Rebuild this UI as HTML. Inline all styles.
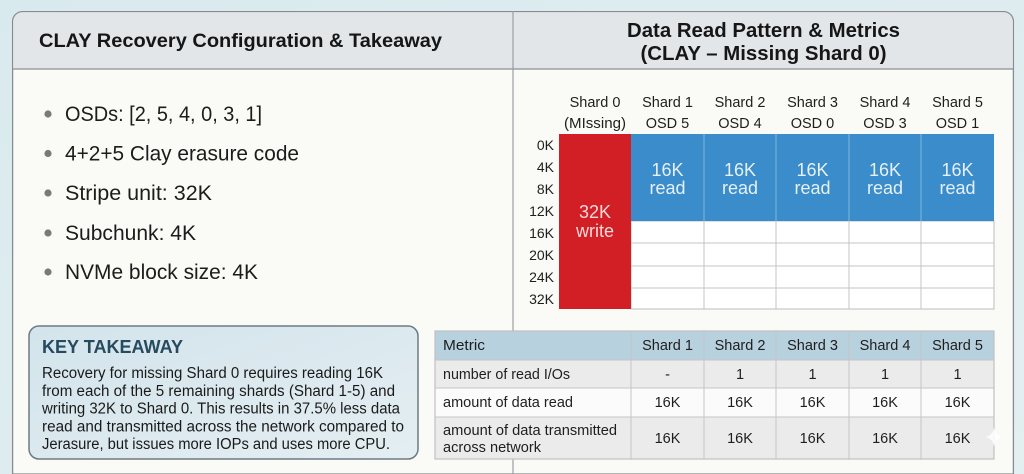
<!DOCTYPE html>
<html>
<head>
<meta charset="utf-8">
<style>
html,body{margin:0;padding:0;background:#dbeaee;width:1024px;height:474px;overflow:hidden;}
svg{display:block;}
text{font-family:"Liberation Sans",Arial,sans-serif;}
</style>
</head>
<body>
<svg width="1024" height="474" viewBox="0 0 1024 474" xmlns="http://www.w3.org/2000/svg">
  <defs>
    <linearGradient id="bg" x1="0" y1="0" x2="1" y2="1">
      <stop offset="0" stop-color="#d9eaee"/>
      <stop offset="1" stop-color="#e3eff1"/>
    </linearGradient>
    <linearGradient id="kt" x1="0" y1="0" x2="1" y2="1">
      <stop offset="0" stop-color="#d3e4ec"/>
      <stop offset="1" stop-color="#e4eef2"/>
    </linearGradient>
  </defs>
  <rect x="0" y="0" width="1024" height="474" fill="url(#bg)"/>

  <!-- main panel -->
  <path d="M12.6 474 V21 A10 10 0 0 1 22 11.6 H1004 A10 10 0 0 1 1013.4 21 V474 Z" fill="#fafaf6" stroke="#878c91" stroke-width="1.3"/>
  <path d="M13.2 69 V21 A9.4 9.4 0 0 1 22 12.2 H1004 A9.4 9.4 0 0 1 1012.8 21 V69 Z" fill="#e3e6e9"/>
  <line x1="12" y1="69" x2="1014" y2="69" stroke="#8a8f94" stroke-width="1.2"/>
  <line x1="513" y1="11" x2="513" y2="474" stroke="#9a9fa4" stroke-width="1.2"/>

  <!-- left header -->
  <text x="39" y="47" font-size="19.5" font-weight="bold" fill="#161616" textLength="403" lengthAdjust="spacingAndGlyphs">CLAY Recovery Configuration &amp; Takeaway</text>

  <!-- bullets -->
  <g fill="#7a7a7a">
    <circle cx="48" cy="114" r="3.6"/>
    <circle cx="48" cy="153.5" r="3.6"/>
    <circle cx="48" cy="193" r="3.6"/>
    <circle cx="48" cy="233" r="3.6"/>
    <circle cx="48" cy="272" r="3.6"/>
  </g>
  <g font-size="21" fill="#1c1c1c">
    <text x="65" y="121" textLength="197" lengthAdjust="spacingAndGlyphs">OSDs: [2, 5, 4, 0, 3, 1]</text>
    <text x="65" y="160.5" textLength="234" lengthAdjust="spacingAndGlyphs">4+2+5 Clay erasure code</text>
    <text x="65" y="200" textLength="147" lengthAdjust="spacingAndGlyphs">Stripe unit: 32K</text>
    <text x="65" y="240" textLength="131" lengthAdjust="spacingAndGlyphs">Subchunk: 4K</text>
    <text x="65" y="279" textLength="193" lengthAdjust="spacingAndGlyphs">NVMe block size: 4K</text>
  </g>

  <!-- key takeaway -->
  <rect x="29" y="326" width="389" height="133" rx="10" ry="10" fill="url(#kt)" stroke="#6c7a83" stroke-width="1.5"/>
  <text x="42" y="353" font-size="18" font-weight="bold" fill="#264a5e" textLength="141" lengthAdjust="spacingAndGlyphs">KEY TAKEAWAY</text>
  <g font-size="15.5" fill="#1a1a1a">
    <text x="42" y="378" textLength="341" lengthAdjust="spacingAndGlyphs">Recovery for missing Shard 0 requires reading 16K</text>
    <text x="42" y="395.8" textLength="353" lengthAdjust="spacingAndGlyphs">from each of the 5 remaining shards (Shard 1-5) and</text>
    <text x="42" y="413.5" textLength="358" lengthAdjust="spacingAndGlyphs">writing 32K to Shard 0. This results in 37.5% less data</text>
    <text x="42" y="431.3" textLength="362" lengthAdjust="spacingAndGlyphs">read and transmitted across the network compared to</text>
    <text x="42" y="449" textLength="348" lengthAdjust="spacingAndGlyphs">Jerasure, but issues more IOPs and uses more CPU.</text>
  </g>

  <!-- right header -->
  <text x="763.5" y="37" font-size="20" font-weight="bold" fill="#161616" text-anchor="middle" textLength="273" lengthAdjust="spacingAndGlyphs">Data Read Pattern &amp; Metrics</text>
  <text x="763.5" y="60" font-size="20" font-weight="bold" fill="#161616" text-anchor="middle" textLength="246" lengthAdjust="spacingAndGlyphs">(CLAY – Missing Shard 0)</text>

  <!-- column headers -->
  <g font-size="14.5" fill="#1e1e1e" text-anchor="middle">
    <text x="595" y="107">Shard 0</text>
    <text x="595" y="128" textLength="62" lengthAdjust="spacingAndGlyphs">(MIssing)</text>
    <text x="667.5" y="107">Shard 1</text>
    <text x="667.5" y="128">OSD 5</text>
    <text x="740" y="107">Shard 2</text>
    <text x="740" y="128">OSD 4</text>
    <text x="812.5" y="107">Shard 3</text>
    <text x="812.5" y="128">OSD 0</text>
    <text x="885" y="107">Shard 4</text>
    <text x="885" y="128">OSD 3</text>
    <text x="957.5" y="107">Shard 5</text>
    <text x="957.5" y="128">OSD 1</text>
  </g>

  <!-- row labels -->
  <g font-size="14" fill="#1e1e1e" text-anchor="end">
    <text x="554" y="150">0K</text>
    <text x="554" y="172">4K</text>
    <text x="554" y="194">8K</text>
    <text x="554" y="216">12K</text>
    <text x="554" y="238">16K</text>
    <text x="554" y="260">20K</text>
    <text x="554" y="282">24K</text>
    <text x="554" y="304">32K</text>
  </g>

  <!-- grid -->
  <rect x="631" y="221" width="363" height="88" fill="#ffffff" stroke="#bdbdbd" stroke-width="1"/>
  <g stroke="#c4c4c4" stroke-width="1">
    <line x1="631" y1="243" x2="994" y2="243"/>
    <line x1="631" y1="266" x2="994" y2="266"/>
    <line x1="631" y1="288" x2="994" y2="288"/>
    <line x1="704" y1="221" x2="704" y2="309"/>
    <line x1="776" y1="221" x2="776" y2="309"/>
    <line x1="849" y1="221" x2="849" y2="309"/>
    <line x1="921" y1="221" x2="921" y2="309"/>
  </g>
  <rect x="631" y="134" width="363" height="87" fill="#3a8dca"/>
  <g stroke="#7db6df" stroke-width="1">
    <line x1="704" y1="134" x2="704" y2="221"/>
    <line x1="776" y1="134" x2="776" y2="221"/>
    <line x1="849" y1="134" x2="849" y2="221"/>
    <line x1="921" y1="134" x2="921" y2="221"/>
  </g>
  <rect x="559" y="134" width="72" height="175" fill="#d11f25"/>

  <g font-size="18" fill="#e6f0f8" text-anchor="middle">
    <text x="667.5" y="176">16K</text><text x="667.5" y="194">read</text>
    <text x="740" y="176">16K</text><text x="740" y="194">read</text>
    <text x="812.5" y="176">16K</text><text x="812.5" y="194">read</text>
    <text x="885" y="176">16K</text><text x="885" y="194">read</text>
    <text x="957.5" y="176">16K</text><text x="957.5" y="194">read</text>
  </g>
  <g font-size="18" fill="#f7dada" text-anchor="middle">
    <text x="595" y="218">32K</text>
    <text x="595" y="237">write</text>
  </g>

  <!-- metrics table -->
  <rect x="435" y="331" width="559" height="29" fill="#b7d1de"/>
  <rect x="435" y="360" width="559" height="28" fill="#ebebeb"/>
  <rect x="435" y="388" width="559" height="29" fill="#fbfbfb"/>
  <rect x="435" y="417" width="559" height="42" fill="#ebebeb"/>
  <g stroke="#c6c6c6" stroke-width="1">
    <line x1="435" y1="360" x2="994" y2="360"/>
    <line x1="435" y1="388" x2="994" y2="388"/>
    <line x1="435" y1="417" x2="994" y2="417"/>
    <line x1="631" y1="331" x2="631" y2="459"/>
    <line x1="704" y1="331" x2="704" y2="459"/>
    <line x1="776" y1="331" x2="776" y2="459"/>
    <line x1="849" y1="331" x2="849" y2="459"/>
    <line x1="921" y1="331" x2="921" y2="459"/>
  </g>
  <rect x="435" y="331" width="559" height="128" fill="none" stroke="#c0c0c0" stroke-width="1.2"/>

  <g font-size="14.5" fill="#1e1e1e">
    <text x="443" y="350" textLength="42" lengthAdjust="spacingAndGlyphs">Metric</text>
    <text x="443" y="379" textLength="127" lengthAdjust="spacingAndGlyphs">number of read I/Os</text>
    <text x="443" y="407" textLength="130" lengthAdjust="spacingAndGlyphs">amount of data read</text>
    <text x="443" y="435" textLength="174" lengthAdjust="spacingAndGlyphs">amount of data transmitted</text>
    <text x="443" y="452" textLength="98" lengthAdjust="spacingAndGlyphs">across network</text>
  </g>
  <g font-size="14.5" fill="#1e1e1e" text-anchor="middle">
    <text x="667.5" y="350">Shard 1</text>
    <text x="740" y="350">Shard 2</text>
    <text x="812.5" y="350">Shard 3</text>
    <text x="885" y="350">Shard 4</text>
    <text x="957.5" y="350">Shard 5</text>

    <text x="667.5" y="379">-</text>
    <text x="740" y="379">1</text>
    <text x="812.5" y="379">1</text>
    <text x="885" y="379">1</text>
    <text x="957.5" y="379">1</text>

    <text x="667.5" y="407">16K</text>
    <text x="740" y="407">16K</text>
    <text x="812.5" y="407">16K</text>
    <text x="885" y="407">16K</text>
    <text x="957.5" y="407">16K</text>

    <text x="667.5" y="443">16K</text>
    <text x="740" y="443">16K</text>
    <text x="812.5" y="443">16K</text>
    <text x="885" y="443">16K</text>
    <text x="957.5" y="443">16K</text>
  </g>

  <!-- sparkle -->
  <path d="M994 427 Q995 436 1003 437 Q995 438 994 447 Q993 438 985 437 Q993 436 994 427 Z" fill="#ffffff" opacity="0.85"/>
</svg>
</body>
</html>
